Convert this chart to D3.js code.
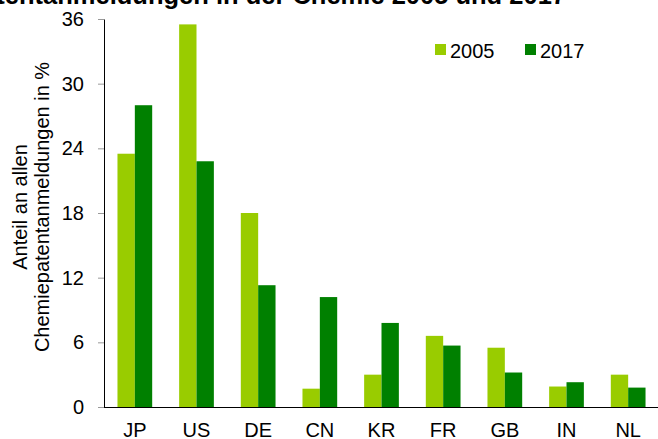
<!DOCTYPE html>
<html>
<head>
<meta charset="utf-8">
<script src="https://cdn.jsdelivr.net/npm/d3@7"></script>
<style>
    body { margin: 0; background: #fff; }
    svg { display: block; font-family: "Liberation Sans", Arial, sans-serif; }
</style>
</head>
<body>
<svg id="chart" width="658" height="439"></svg>
<script>
// data
const laender = ["JP", "US", "DE", "CN", "KR", "FR", "GB", "IN", "NL"];
const jahre = ["2005", "2017"];
const werte2005 = [23.5, 35.5, 18.0, 1.7, 3.0, 6.6, 5.5, 1.9, 3.0];
const werte2017 = [28.0, 22.8, 11.3, 10.2, 7.8, 5.7, 3.2, 2.3, 1.8];
const yTicks = [0, 6, 12, 18, 24, 30, 36];

const farben = { "2005": "#99cc00", "2017": "#008000" };

const svg = d3.select("#chart");
const mLeft = 104, mRight = 659, mTop = 19, mBottom = 407;

let rows = laender.map((l, i) => ({ land: l, "2005": werte2005[i], "2017": werte2017[i] }));

let x0 = d3.scaleBand()
    .domain(laender)
    .range([mLeft, mRight])
    .paddingInner(0.437)
    .paddingOuter(0.2185);

let x1 = d3.scaleBand()
    .domain(jahre)
    .range([0, x0.bandwidth()]);

let y = d3.scaleLinear()
    .domain([0, 36])
    .range([mBottom, mTop]);

// title, mostly cut off at the top edge
svg.append("text")
    .attr("x", 566)
    .attr("y", 4)
    .attr("text-anchor", "end")
    .style("font-weight", "bold")
    .style("font-size", "25.5px")
    .text("Patentanmeldungen in der Chemie 2005 und 2017");

// bars
let groups = svg.selectAll(".gruppe")
    .data(rows)
    .enter()
    .append("g")
    .attr("class", "gruppe")
    .attr("transform", d => `translate(${x0(d.land)},0)`);

groups.selectAll("rect")
    .data(d => jahre.map(j => ({ jahr: j, wert: d[j] })))
    .enter()
    .append("rect")
    .attr("x", d => x1(d.jahr))
    .attr("y", d => y(d.wert))
    .attr("width", x1.bandwidth())
    .attr("height", d => y(0) - y(d.wert))
    .attr("fill", d => farben[d.jahr]);

// y axis
let yAxis = svg.append("g")
    .attr("transform", `translate(${mLeft},0)`)
    .call(d3.axisLeft(y).tickValues(yTicks).tickSize(6).tickSizeOuter(0).tickPadding(14));

yAxis.select(".domain").attr("stroke", "#000");
yAxis.selectAll(".tick line").attr("stroke", "#999");
yAxis.selectAll(".tick text")
    .attr("fill", "#000")
    .style("font-size", "20px")
    .style("font-family", "Liberation Sans, Arial, sans-serif");

// x axis line + labels
let xAxis = svg.append("g")
    .attr("transform", `translate(0,${mBottom})`)
    .call(d3.axisBottom(x0).tickSize(0).tickSizeOuter(0).tickPadding(20));

xAxis.select(".domain")
    .attr("stroke", "#000")
    .attr("d", `M${mLeft},0.5H658`);
xAxis.selectAll(".tick text")
    .attr("fill", "#000")
    .attr("dy", "0")
    .attr("y", 30)
    .style("font-size", "20px")
    .style("font-family", "Liberation Sans, Arial, sans-serif");

// y axis title, two lines
let titel = svg.append("text")
    .attr("transform", "translate(27,207) rotate(-90)")
    .attr("text-anchor", "middle")
    .style("font-size", "20px");
titel.append("tspan").attr("x", 0).attr("y", 0).text("Anteil an allen");
titel.append("tspan").attr("x", 0).attr("y", 22).text("Chemiepatentanmeldungen in %");

// legend
let legende = svg.selectAll(".legende")
    .data(jahre)
    .enter()
    .append("g")
    .attr("class", "legende")
    .attr("transform", (d, i) => `translate(${435 + i * 90},44)`);

legende.append("rect")
    .attr("width", 11)
    .attr("height", 11)
    .attr("fill", d => farben[d]);

legende.append("text")
    .attr("x", 15)
    .attr("y", 14)
    .style("font-size", "20px")
    .text(d => d);
</script>
</body>
</html>
